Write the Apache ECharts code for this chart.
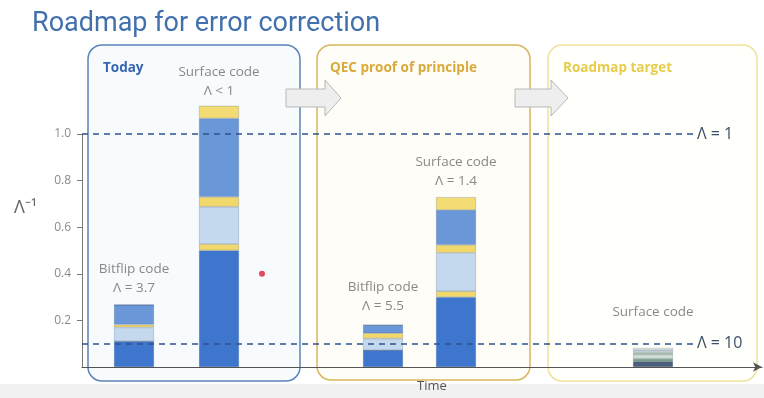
<!DOCTYPE html>
<html>
<head>
<meta charset="utf-8">
<script src="https://cdn.jsdelivr.net/npm/echarts@6/dist/echarts.min.js"></script>
<style>
html, body { margin: 0; padding: 0; background: #fff; }
#chart { width: 764px; height: 398px; }
</style>
</head>
<body>
<div id="chart"></div>
<script>
// time position of each bar (arbitrary units along the Time axis)
var xPos = [0.52, 1.37, 3.01, 3.74, 5.71];
// stacked error budget layers, bottom to top
var layerDark = [0.11, 0.50, 0.072, 0.30, 0.025];
var layerYellow1 = [0, 0.028, 0, 0.025, 0.012];
var layerLight = [0.06, 0.16, 0.05, 0.165, 0.015];
var layerYellow2 = [0.012, 0.042, 0.023, 0.034, 0.01];
var layerMedium = [0.085, 0.337, 0.035, 0.15, 0.01];
var layerYellow3 = [0, 0.054, 0, 0.055, 0.01];
var codeNames = ['Bitflip code', 'Surface code', 'Bitflip code', 'Surface code', 'Surface code'];
var lambdaText = ['Λ = 3.7', 'Λ < 1', 'Λ = 5.5', 'Λ = 1.4', ''];
var labelGap = [7, 5, 9, 6, 26];
var yTicks = [0.2, 0.4, 0.6, 0.8, 1.0];
var thresholds = [1.0, 0.1];
var thresholdText = ['Λ = 1', 'Λ = 10'];
var redDot = [1.80, 0.40];

var chart = echarts.init(document.getElementById('chart'), null, {renderer: 'canvas'});

var layers = [
    {data: layerDark, color: '#3d76cc', target: '#4b5f7d'},
    {data: layerYellow1, color: '#f1d86c', target: '#86ad8c'},
    {data: layerLight, color: '#c4d8ee', target: '#d7e4da'},
    {data: layerYellow2, color: '#f1d86c', target: '#a9c3a6'},
    {data: layerMedium, color: '#6a97d7', target: '#cbd6da'},
    {data: layerYellow3, color: '#f3dc74', target: '#e4eae2'}
];

// value first so that the stack is computed on the y dimension
var series = layers.map(function (l) {
    return {
        type: 'bar',
        stack: 'budget',
        barWidth: 40,
        clip: false,
        dimensions: ['v', 't'],
        encode: {x: 't', y: 'v'},
        itemStyle: {color: l.color, borderColor: 'rgba(50,70,110,0.35)', borderWidth: 0.6},
        data: l.data.map(function (v, i) {
            var d = {value: [v, xPos[i]]};
            if (i === 4) d.itemStyle = {color: l.target};
            return d;
        })
    };
});

var tops = xPos.map(function (x, i) {
    var s = 0;
    layers.forEach(function (l) { s += l.data[i]; });
    return s;
});

series.push({
    type: 'scatter',
    symbolSize: 0,
    clip: false,
    silent: true,
    data: xPos.map(function (x, i) {
        return {
            value: [x, tops[i]],
            label: {
                show: true,
                position: 'top',
                distance: labelGap[i],
                lineHeight: 19,
                color: '#6b6b6b',
                fontSize: 13.5,
                fontFamily: 'Open Sans',
                formatter: lambdaText[i] ? codeNames[i] + '\n' + lambdaText[i] : codeNames[i]
            }
        };
    }),
    markLine: {
        silent: true,
        symbol: 'none',
        lineStyle: {type: [6, 5], color: '#2f528e', width: 1.5},
        label: {position: 'end', distance: 3, color: '#3d4f6b', fontSize: 16, fontFamily: 'Open Sans'},
        data: thresholds.map(function (t, i) {
            return [{coord: [0, t]}, {coord: [6.12, t], label: {formatter: thresholdText[i]}}];
        })
    }
});

series.push({
    type: 'scatter',
    symbolSize: 6,
    itemStyle: {color: '#d8203a'},
    data: [redDot]
});

chart.setOption({
    animation: false,
    title: {
        text: 'Roadmap for error correction',
        left: 27, top: 6,
        textStyle: {color: '#4170ad', fontSize: 27, fontWeight: 'normal', fontFamily: 'Roboto'}
    },
    grid: {left: 82, right: 2, top: 134, bottom: 27},
    xAxis: {
        type: 'value', min: 0, max: 6.8,
        name: 'Time', nameLocation: 'middle', nameGap: 13,
        nameTextStyle: {color: '#555', fontSize: 13, fontFamily: 'Open Sans', padding: [0, 0, 0, 20]},
        axisLine: {show: true, lineStyle: {color: '#555', width: 1.2}, symbol: ['none', 'arrow'], symbolSize: [7, 9]},
        axisTick: {show: false}, axisLabel: {show: false}, splitLine: {show: false}
    },
    yAxis: {
        type: 'value', min: 0, max: 1.0, interval: 0.2,
        axisLine: {show: true, lineStyle: {color: '#777'}},
        axisTick: {show: true, length: 5, lineStyle: {color: '#777'}, customValues: yTicks},
        axisLabel: {color: '#8a8a8a', fontSize: 12, fontFamily: 'Open Sans', margin: 11, customValues: yTicks,
            formatter: function (v) { return v.toFixed(1); }},
        splitLine: {show: false}
    },
    graphic: [
        {type: 'rect', z: -5, shape: {x: 0, y: 384, width: 764, height: 14}, style: {fill: '#f1f1f1'}},
        {type: 'rect', z: -4, shape: {x: 88, y: 45, width: 212, height: 336, r: 14}, style: {fill: '#f8fbfe', stroke: '#5b84b8', lineWidth: 1.5}},
        {type: 'rect', z: -4, shape: {x: 317, y: 45, width: 213, height: 335, r: 14}, style: {fill: '#fffdf7', stroke: '#d8b65c', lineWidth: 1.5}},
        {type: 'rect', z: -4, shape: {x: 548, y: 45, width: 209, height: 336, r: 14}, style: {fill: '#fffffb', stroke: '#eee29c', lineWidth: 1.5}},
        {type: 'polygon', z: -3, shape: {points: [[286, 89], [325, 89], [325, 80], [341, 98], [325, 116], [325, 107], [286, 107]]}, style: {fill: '#eeeeee', stroke: '#b8b8b8', lineWidth: 1}},
        {type: 'polygon', z: -3, shape: {points: [[515, 89], [551, 89], [551, 80], [568, 98], [551, 116], [551, 107], [515, 107]]}, style: {fill: '#eeeeee', stroke: '#b8b8b8', lineWidth: 1}},
        {type: 'text', z: -3, left: 103, top: 61, style: {text: 'Today', fill: '#3567b0', font: 'bold 13.5px "Open Sans"'}},
        {type: 'text', z: -3, left: 330, top: 61, style: {text: 'QEC proof of principle', fill: '#d9a93a', font: 'bold 13.5px "Open Sans"'}},
        {type: 'text', z: -3, left: 563, top: 61, style: {text: 'Roadmap target', fill: '#e6cd4c', font: 'bold 13.5px "Open Sans"'}},
        {type: 'text', z: -3, left: 14, top: 199, style: {text: 'Λ⁻¹', fill: '#666', font: '18px "Open Sans"'}}
    ],
    series: series
});
</script>
</body>
</html>
